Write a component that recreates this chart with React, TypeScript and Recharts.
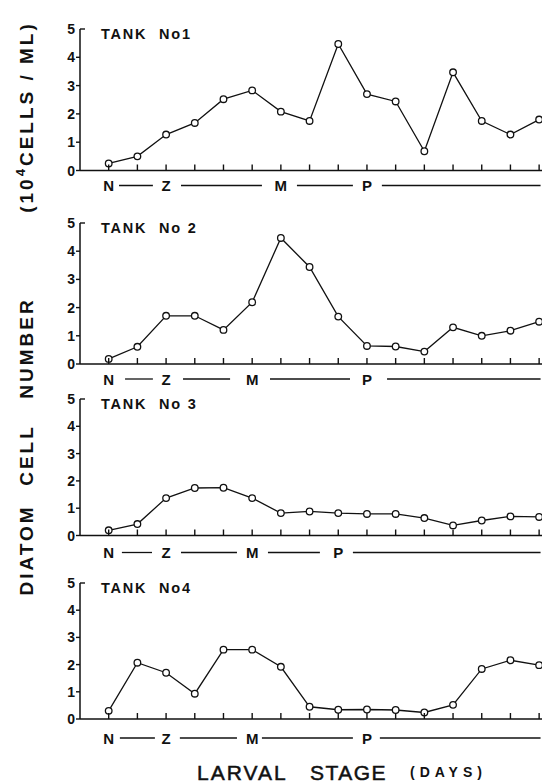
import React from 'react';
import { LineChart, Line, XAxis, YAxis, ReferenceLine } from 'recharts';

const days = [1, 2, 3, 4, 5, 6, 7, 8, 9, 10, 11, 12, 13, 14, 15, 16];
const yTicks = [0, 1, 2, 3, 4, 5];

const tank1 = [0.25, 0.5, 1.27, 1.68, 2.52, 2.83, 2.08, 1.75, 4.47, 2.7, 2.44, 0.68, 3.47, 1.75, 1.27, 1.8];
const tank2 = [0.18, 0.61, 1.71, 1.71, 1.21, 2.19, 4.47, 3.44, 1.68, 0.64, 0.62, 0.44, 1.3, 1.0, 1.18, 1.5];
const tank3 = [0.19, 0.42, 1.37, 1.74, 1.75, 1.37, 0.82, 0.88, 0.82, 0.79, 0.79, 0.64, 0.37, 0.55, 0.7, 0.68];
const tank4 = [0.3, 2.07, 1.7, 0.93, 2.55, 2.55, 1.92, 0.45, 0.34, 0.35, 0.33, 0.24, 0.52, 1.84, 2.16, 1.98];

const tankTitles = ['TANK  No1', 'TANK  No 2', 'TANK  No 3', 'TANK  No4'];

const stageLetters = ['N', 'Z', 'M', 'P'];
const stagePos1 = [1, 3, 7, 10];
const stagePos2 = [1, 3, 6, 10];
const stagePos3 = [1, 3, 6, 9];
const stagePos4 = [1, 3, 6, 10];

const stageDashes1 = [[1.36, 2.54], [3.52, 6.34], [7.56, 9.51], [10.52, 16.05]];
const stageDashes2 = [[1.57, 2.54], [3.59, 5.23], [6.62, 9.41], [10.7, 16.05]];
const stageDashes3 = [[1.46, 2.51], [3.52, 5.47], [6.55, 8.36], [9.51, 16.05]];
const stageDashes4 = [[1.39, 2.61], [3.48, 5.47], [6.34, 9.51], [10.45, 16.05]];

const FONT = '"Liberation Sans", Arial, Helvetica, sans-serif';
const INK = '#111';

type PanelProps = {
  values: number[];
  stagePos: number[];
  dashes: number[][];
  top: number;
  zero: number;
  gap: number;
  title: string;
};

function Panel({ values, stagePos, dashes, top, zero, gap, title }: PanelProps) {
  const padTop = 20;
  const padBottom = 34;
  const plotH = zero - top;
  const data = days.map((d, i) => ({ day: d, v: values[i] }));
  const dashY = -gap / (plotH / 5);
  const stageMap = new Map<number, string>(stagePos.map((p, i) => [p, stageLetters[i]]));

  const XTick = (props: any) => {
    const { x, y, payload } = props;
    const letter = stageMap.get(payload.value);
    return (
      <g>
        <line x1={x} x2={x} y1={y} y2={y - 6} stroke={INK} strokeWidth={1.4} />
        {letter ? (
          <text x={x} y={y + gap} textAnchor="middle" dominantBaseline="central" fontFamily={FONT} fontWeight="bold" fontSize={15} fill={INK}>
            {letter}
          </text>
        ) : null}
      </g>
    );
  };

  const YTick = (props: any) => {
    const { x, y, payload } = props;
    const isTop = payload.value === 5;
    return (
      <g>
        <line x1={isTop ? x : x - 4} x2={isTop ? x + 5 : x} y1={y} y2={y} stroke={INK} strokeWidth={1.4} />
        <text x={x - 5} y={y} textAnchor="end" dominantBaseline="central" fontFamily={FONT} fontWeight="bold" fontSize={14} fill={INK}>
          {payload.value}
        </text>
      </g>
    );
  };

  return (
    <div style={{ position: 'absolute', left: 0, top: top - padTop }}>
      <LineChart width={542} height={plotH + padTop + padBottom} data={data} margin={{ top: padTop, right: 0, left: 0, bottom: 0 }}>
        <XAxis
          dataKey="day"
          type="number"
          domain={[0, 16.1]}
          ticks={days}
          allowDataOverflow
          height={padBottom}
          tickSize={0}
          tickMargin={0}
          tickLine={false}
          axisLine={{ stroke: INK, strokeWidth: 1.5 }}
          tick={<XTick />}
          interval={0}
        />
        <YAxis
          type="number"
          domain={[0, 5]}
          ticks={yTicks}
          allowDataOverflow
          width={80}
          tickSize={0}
          tickMargin={0}
          tickLine={false}
          axisLine={{ stroke: INK, strokeWidth: 1.5 }}
          tick={<YTick />}
          interval={0}
        />
        {dashes.map((d, i) => (
          <ReferenceLine
            key={i}
            segment={[{ x: d[0], y: dashY }, { x: d[1], y: dashY }]}
            stroke={INK}
            strokeWidth={1.3}
            ifOverflow="visible"
          />
        ))}
        <Line
          type="linear"
          dataKey="v"
          stroke={INK}
          strokeWidth={1.3}
          dot={{ r: 3.3, stroke: INK, strokeWidth: 1.3, fill: '#fff' }}
          activeDot={false}
          isAnimationActive={false}
        />
      </LineChart>
      <div
        style={{
          position: 'absolute',
          left: 101,
          top: padTop - 2,
          fontFamily: FONT,
          fontWeight: 'bold',
          fontSize: 14.5,
          letterSpacing: 1.8,
          whiteSpace: 'pre',
          color: INK,
          lineHeight: '15px',
        }}
      >
        {title}
      </div>
    </div>
  );
}

export default function App() {
  return (
    <div style={{ position: 'absolute', left: 0, top: 0, width: 542, height: 784, background: '#fff', overflow: 'hidden' }}>
      <Panel values={tank1} stagePos={stagePos1} dashes={stageDashes1} top={28.5} zero={170} gap={15} title={tankTitles[0]} />
      <Panel values={tank2} stagePos={stagePos2} dashes={stageDashes2} top={223} zero={364} gap={15} title={tankTitles[1]} />
      <Panel values={tank3} stagePos={stagePos3} dashes={stageDashes3} top={399} zero={535.5} gap={17} title={tankTitles[2]} />
      <Panel values={tank4} stagePos={stagePos4} dashes={stageDashes4} top={583} zero={719} gap={19} title={tankTitles[3]} />
      <svg width={542} height={784} style={{ position: 'absolute', left: 0, top: 0, pointerEvents: 'none' }}>
        <g fontFamily={FONT} fontWeight="bold" fontSize={19} fill={INK} letterSpacing={3}>
          <text x={33} y={550} textAnchor="middle" transform="rotate(-90 33 550)">DIATOM</text>
          <text x={33} y={455} textAnchor="middle" transform="rotate(-90 33 455)">CELL</text>
          <text x={33} y={348} textAnchor="middle" transform="rotate(-90 33 348)">NUMBER</text>
          <text x={33} y={117} textAnchor="middle" transform="rotate(-90 33 117)">
            <tspan>(10</tspan>
            <tspan dy={-8} fontSize={13}>4</tspan>
            <tspan dy={8}>CELLS / ML)</tspan>
          </text>
        </g>
        <text y={780} fontFamily={FONT} fill={INK} stroke={INK} strokeWidth={0.5}>
          <tspan x={197} fontSize={21} letterSpacing={2}>LARVAL</tspan>
          <tspan x={310} fontSize={21} letterSpacing={1.5}>STAGE</tspan>
          <tspan x={410} y={777} fontSize={14} fontWeight="bold" letterSpacing={5} strokeWidth={0}>(DAYS)</tspan>
        </text>
      </svg>
    </div>
  );
}
